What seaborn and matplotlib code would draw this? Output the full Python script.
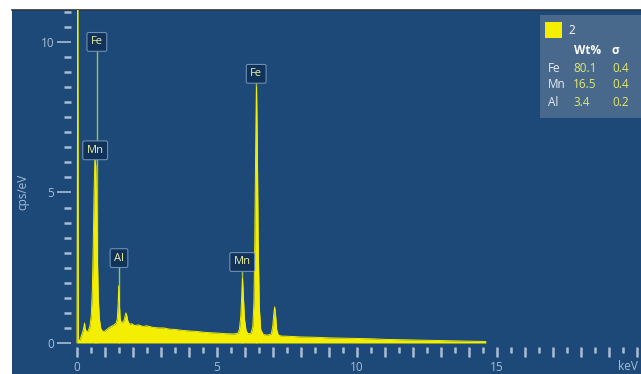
import numpy as np
import matplotlib
matplotlib.use("Agg")
import matplotlib.pyplot as plt
from matplotlib.patches import Rectangle
from matplotlib.ticker import FixedLocator, FuncFormatter
import seaborn as sns

# ---------------------------
# Data
# ---------------------------
energy = [0.0, 0.03, 0.05, 0.10, 0.16, 0.22, 0.25, 0.27, 0.29, 0.33, 0.40, 0.46,
          0.51, 0.55, 0.58, 0.61, 0.64, 0.67, 0.70, 0.73, 0.76, 0.80, 0.85, 0.92,
          1.00, 1.08, 1.16, 1.24, 1.32, 1.40, 1.44, 1.47, 1.49, 1.51, 1.54, 1.58,
          1.63, 1.68, 1.72, 1.75, 1.78, 1.82, 1.88, 1.96, 2.05, 2.2, 2.35, 2.5,
          2.7, 2.9, 3.1, 3.3, 3.5, 3.75, 4.0, 4.3, 4.6, 5.0, 5.3, 5.6, 5.74,
          5.80, 5.85, 5.88, 5.91, 5.94, 5.98, 6.04, 6.12, 6.22, 6.28, 6.32, 6.35,
          6.38, 6.41, 6.44, 6.47, 6.51, 6.56, 6.65, 6.8, 6.94, 6.99, 7.03, 7.06,
          7.09, 7.13, 7.19, 7.3, 7.6, 8.0, 8.5, 9.0, 9.5, 10.0, 10.5, 11.0, 11.5,
          12.0, 12.5, 13.0, 13.5, 14.0, 14.6]
counts = [0.0, 12.0, 0.10, 0.08, 0.25, 0.42, 0.55, 0.66, 0.50, 0.38, 0.40, 0.55,
          0.90, 1.8, 3.2, 5.0, 6.1, 5.9, 4.6, 2.8, 1.5, 0.80, 0.48, 0.38,
          0.40, 0.46, 0.52, 0.56, 0.60, 0.66, 0.80, 1.30, 1.90, 1.40, 0.82, 0.66,
          0.70, 0.75, 0.90, 1.00, 0.90, 0.72, 0.62, 0.64, 0.58, 0.60, 0.55, 0.57,
          0.52, 0.50, 0.50, 0.46, 0.45, 0.42, 0.40, 0.38, 0.35, 0.33, 0.31, 0.30, 0.32,
          0.45, 0.90, 1.50, 2.15, 1.60, 0.80, 0.40, 0.30, 0.33, 0.55, 1.40, 3.40,
          6.40, 8.50, 6.60, 3.40, 1.20, 0.45, 0.28, 0.26, 0.30, 0.55, 1.00, 1.20,
          0.95, 0.45, 0.26, 0.23, 0.22, 0.20, 0.19, 0.17, 0.16, 0.15, 0.14, 0.12, 0.11,
          0.10, 0.09, 0.08, 0.07, 0.06, 0.05]

# peak markers
marker_names = ["Fe", "Mn", "Al", "Mn", "Fe"]
marker_energy = [0.71, 0.65, 1.50, 5.90, 6.40]
marker_label_y = [10.0, 6.4, 2.82, 2.69, 8.94]

# quantification box
quant_elements = ["Fe", "Mn", "Al"]
quant_wt = ["80.1", "16.5", "3.4"]
quant_sigma = ["0.4", "0.4", "0.2"]
spectrum_name = "2"

# ---------------------------
# Style
# ---------------------------
sns.set_style("dark")
plt.rcParams['font.family'] = ['Open Sans', 'DejaVu Sans']

bg = "#1c4978"
tick_col = "#a9bdd4"
yellow = "#f4ee00"
W, H = 641, 374

fig = plt.figure(figsize=(W / 100, H / 100), dpi=100, facecolor="white")
ax = fig.add_axes([12 / W, 0, 629 / W, 364 / H])
ax.set_facecolor(bg)

# spectrum
sns.lineplot(x=energy, y=counts, ax=ax, color=yellow, linewidth=0.7, zorder=4)
ax.fill_between(energy, counts, color=yellow, lw=0, zorder=4)

# marker lines and labels
for name, e, ly in zip(marker_names, marker_energy, marker_label_y):
    ax.vlines(e, 0, ly, color="#9fc24a", lw=1.0, zorder=3)
    ax.text(e, ly, name, ha="center", va="center", fontsize=8, color="#eef0a0",
            zorder=6,
            bbox=dict(boxstyle="round,pad=0.35,rounding_size=0.15", fc="#113259",
                      ec="#6d8fb6", lw=0.8))

ax.set_xlim(-2.32, 20.14)
ax.set_ylim(-1.03, 11.06)

# axes / ticks
ax.spines["right"].set_visible(False)
ax.spines["top"].set_color("#2c3645")
ax.spines["top"].set_linewidth(1.2)
ax.spines["bottom"].set_position(("data", -0.13))
ax.spines["left"].set_position(("data", -0.21))
ax.spines["bottom"].set_visible(False)
ax.spines["left"].set_visible(False)

ax.xaxis.set_major_locator(FixedLocator(np.arange(0, 20.5, 1)))
ax.xaxis.set_minor_locator(FixedLocator(np.arange(0.5, 20.5, 1)))
ax.xaxis.set_major_formatter(FuncFormatter(
    lambda v, p: f"{v:.0f}" if v % 5 == 0 and v <= 15 else ""))
ax.yaxis.set_major_locator(FixedLocator([0, 5, 10]))
ax.yaxis.set_minor_locator(FixedLocator([v for v in np.arange(0.5, 11.5, 0.5) if v % 5 != 0]))
ax.yaxis.set_major_formatter(FuncFormatter(lambda v, p: f"{v:.0f}"))

ax.tick_params(axis="x", which="major", direction="out", length=7, width=1.8,
               color=tick_col, labelcolor=tick_col, labelsize=8.5, pad=3, bottom=True)
ax.tick_params(axis="x", which="minor", direction="out", length=4, width=1.8,
               color=tick_col, bottom=True)
ax.tick_params(axis="y", which="major", direction="out", length=10, width=1.2,
               color=tick_col, labelcolor=tick_col, labelsize=8.5, pad=2, left=True)
ax.tick_params(axis="y", which="minor", direction="out", length=5, width=1.8,
               color=tick_col, left=True)
ax.grid(False)

ax.set_ylabel("cps/eV", color=tick_col, fontsize=8.5, labelpad=8)
fig.text(628 / W, 1 - 366 / H, "keV", color=tick_col, fontsize=8.5,
         ha="center", va="center")

# quantification box
fig.patches.append(Rectangle((540 / W, 1 - 118 / H), 101 / W, 103 / H,
                             transform=fig.transFigure, fc="#4b6a8e", ec="none",
                             alpha=0.95, zorder=5))
fig.patches.append(Rectangle((545 / W, 1 - 38 / H), 17 / W, 16 / H,
                             transform=fig.transFigure, fc=yellow, ec="none", zorder=6))
fig.text(568 / W, 1 - 30 / H, spectrum_name, color="white", fontsize=8.5,
         va="center", zorder=7)
fig.text(574 / W, 1 - 51 / H, "Wt%", color="white", fontsize=8.5,
         fontweight="bold", va="center", zorder=7)
fig.text(611 / W, 1 - 51 / H, "σ", color="white", fontsize=8.5,
         fontweight="bold", va="center", zorder=7)
for i, (el, wt, sg) in enumerate(zip(quant_elements, quant_wt, quant_sigma)):
    yy = 1 - (68 + 17 * i) / H
    fig.text(548 / W, yy, el, color="#e6ebf2", fontsize=8.5, va="center", zorder=7)
    fig.text(573 / W, yy, wt, color="#e4e86a", fontsize=8.5, va="center", zorder=7)
    fig.text(612 / W, yy, sg, color="#e4e86a", fontsize=8.5, va="center", zorder=7)

fig.savefig("out.png", dpi=100, facecolor="white")
